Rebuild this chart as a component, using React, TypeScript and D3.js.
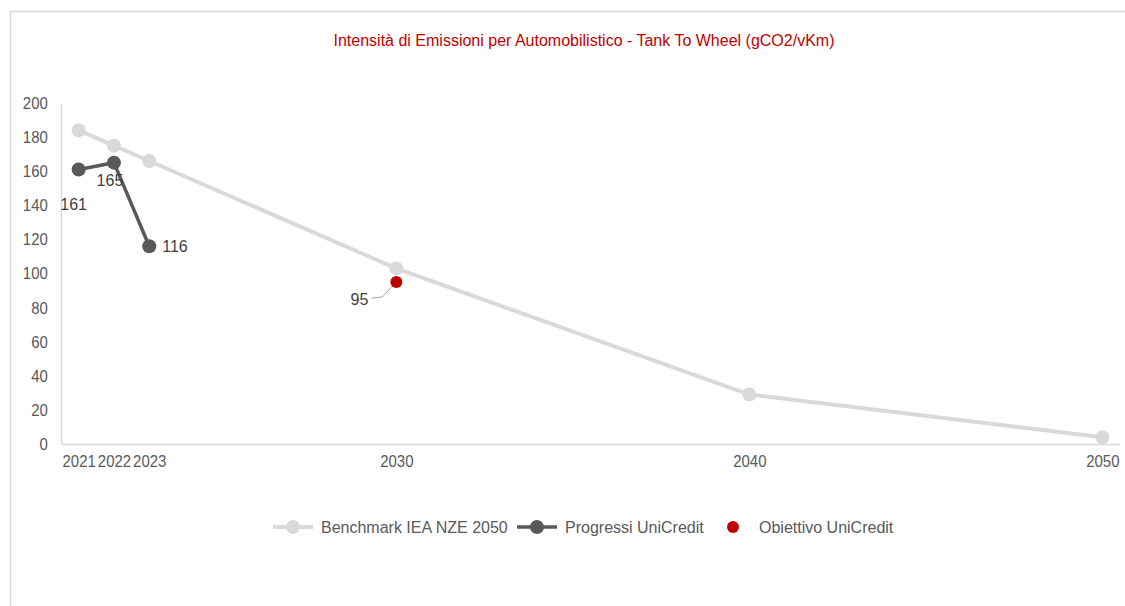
import { useEffect, useRef } from 'react';
import * as d3 from 'd3';

const years = [2021, 2022, 2023, 2030, 2040, 2050];
const benchmark = [184, 175, 166, 103, 29, 4];
const progressYears = [2021, 2022, 2023];
const progress = [161, 165, 116];
const targetYear = 2030;
const target = 95;
const yTicks = [0, 20, 40, 60, 80, 100, 120, 140, 160, 180, 200];
const title = 'Intensità di Emissioni per Automobilistico - Tank To Wheel (gCO2/vKm)';

const FONT = '"Liberation Sans", Arial, sans-serif';
const FS = 16;
const GREY_TEXT = '#595959';
const LIGHT = '#d9d9d9';
const DARK = '#595959';
const RED = '#c00000';

export default function App() {
  const ref = useRef<SVGSVGElement | null>(null);

  useEffect(() => {
    if (!ref.current) return;
    const svg = d3.select(ref.current);
    svg.selectAll('*').remove();

    const x = d3.scaleLinear().domain([2020.5, 2050.5]).range([61, 1120]);
    const y = d3.scaleLinear().domain([0, 200]).range([444, 103]);

    // frame
    svg.append('rect')
      .attr('x', 10.5).attr('y', 11.5)
      .attr('width', 1130).attr('height', 610)
      .attr('fill', 'white').attr('stroke', LIGHT).attr('stroke-width', 1.5);

    svg.append('text')
      .attr('x', 584).attr('y', 46)
      .attr('text-anchor', 'middle')
      .attr('font-family', FONT).attr('font-size', FS)
      .attr('fill', RED)
      .text(title);

    // axes (tick labels slightly condensed, like the narrow font of the original)
    const yAxis = svg.append('g')
      .attr('transform', `translate(61,0)`)
      .call(d3.axisLeft(y).tickValues(yTicks).tickSize(0).tickPadding(15));
    yAxis.select('.domain').attr('stroke', LIGHT).attr('stroke-width', 1.5);
    yAxis.selectAll('text')
      .attr('font-family', FONT).attr('font-size', 17).attr('fill', GREY_TEXT)
      .attr('transform', 'scale(0.88,1)');

    const xAxis = svg.append('g')
      .attr('transform', `translate(0,444)`)
      .call(d3.axisBottom(x).tickValues(years).tickFormat(d3.format('d')).tickSize(0).tickPadding(11));
    xAxis.select('.domain').attr('stroke', LIGHT).attr('stroke-width', 1.5);
    xAxis.selectAll('text')
      .attr('font-family', FONT).attr('font-size', 17).attr('fill', GREY_TEXT)
      .attr('transform', 'scale(0.88,1)');

    const line = d3.line<[number, number]>().x(d => x(d[0])).y(d => y(d[1]));

    // benchmark
    const bData: [number, number][] = years.map((yr, i) => [yr, benchmark[i]]);
    svg.append('path').datum(bData)
      .attr('d', line).attr('fill', 'none')
      .attr('stroke', LIGHT).attr('stroke-width', 4);
    svg.append('g').selectAll('circle').data(bData).enter().append('circle')
      .attr('cx', d => x(d[0])).attr('cy', d => y(d[1])).attr('r', 7).attr('fill', LIGHT);

    // progress
    const pData: [number, number][] = progressYears.map((yr, i) => [yr, progress[i]]);
    svg.append('path').datum(pData)
      .attr('d', line).attr('fill', 'none')
      .attr('stroke', DARK).attr('stroke-width', 3.5);
    svg.append('g').selectAll('circle').data(pData).enter().append('circle')
      .attr('cx', d => x(d[0])).attr('cy', d => y(d[1])).attr('r', 7).attr('fill', DARK);

    // progress labels
    const offsets = [
      { dx: -5, dy: 41, anchor: 'middle' },
      { dx: -4, dy: 23, anchor: 'middle' },
      { dx: 13, dy: 6, anchor: 'start' },
    ];
    svg.append('g').selectAll('text').data(pData).enter().append('text')
      .attr('x', (d, i) => x(d[0]) + offsets[i].dx)
      .attr('y', (d, i) => y(d[1]) + offsets[i].dy)
      .attr('text-anchor', (d, i) => offsets[i].anchor)
      .attr('font-family', FONT).attr('font-size', FS).attr('fill', '#404040')
      .text(d => d[1]);

    // target
    const tx = x(targetYear);
    const ty = y(target);
    svg.append('path')
      .attr('d', `M${tx - 25},${ty + 16} L${tx - 14},${ty + 15} L${tx - 3},${ty + 3}`)
      .attr('fill', 'none').attr('stroke', '#a6a6a6').attr('stroke-width', 1);
    svg.append('circle').attr('cx', tx).attr('cy', ty).attr('r', 6).attr('fill', RED);
    svg.append('text')
      .attr('x', tx - 28).attr('y', ty + 23)
      .attr('text-anchor', 'end')
      .attr('font-family', FONT).attr('font-size', FS).attr('fill', '#404040')
      .text(target);

    // legend
    const legend = svg.append('g').attr('font-family', FONT).attr('font-size', FS).attr('fill', GREY_TEXT);
    const ly = 527;
    const items = [
      { x: 273, color: LIGHT, w: 4, label: 'Benchmark IEA NZE 2050' },
      { x: 517, color: DARK, w: 3.5, label: 'Progressi UniCredit' },
    ];
    items.forEach(it => {
      legend.append('line')
        .attr('x1', it.x).attr('x2', it.x + 40).attr('y1', ly).attr('y2', ly)
        .attr('stroke', it.color).attr('stroke-width', it.w);
      legend.append('circle').attr('cx', it.x + 20).attr('cy', ly).attr('r', 7).attr('fill', it.color);
      legend.append('text').attr('x', it.x + 48).attr('y', ly + 6).text(it.label);
    });
    legend.append('circle').attr('cx', 733).attr('cy', ly).attr('r', 6).attr('fill', RED);
    legend.append('text').attr('x', 759).attr('y', ly + 6).text('Obiettivo UniCredit');
  }, []);

  return (
    <div style={{ position: 'absolute', left: 0, top: 0 }}>
      <svg ref={ref} width={1125} height={606} style={{ display: 'block' }} />
    </div>
  );
}
